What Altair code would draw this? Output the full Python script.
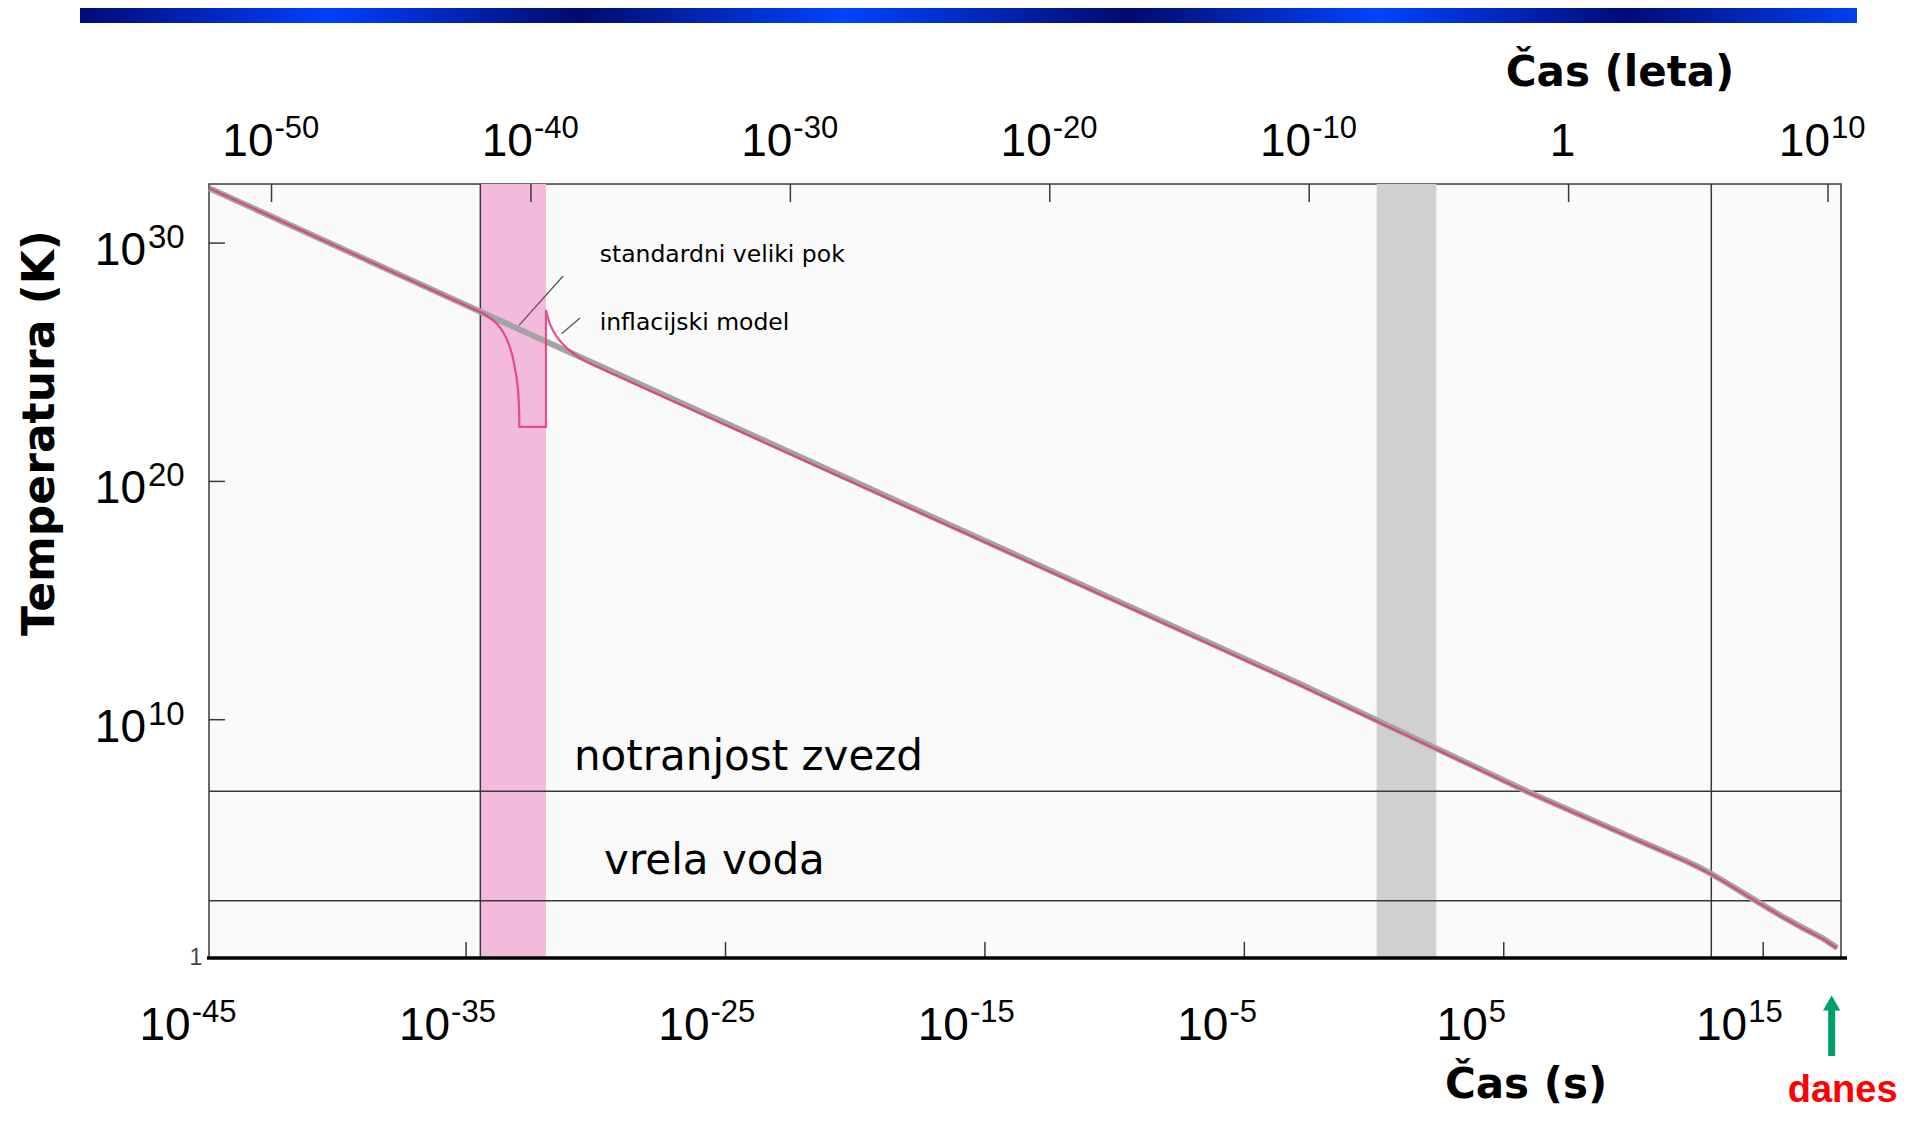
import altair as alt
import pandas as pd

# ---------------- data (all values are log10) ----------------
# bottom axis: time in seconds
sec_label_exps = [-45, -35, -25, -15, -5, 5, 15]
sec_tick_exps = [-35, -25, -15, -5, 5, 15]
# top axis: time in years
yr_label_exps = [-50, -40, -30, -20, -10, 10]
yr_one_exps = [0]
yr_tick_exps = [-50, -40, -30, -20, -10, 0, 10]
LOG_SEC_PER_YEAR = 7.5  # 1 year ~ 3.16e7 s
# left axis: temperature in K
temp_label_exps = [10, 20, 30]
temp_one_exps = [0]

# standard big bang (grey)
std_logt = [-44.9, -34.4, -15.5, -2.85, 5.94, 10.0, 12.0, 12.5, 13.0, 13.5, 14.0, 14.9, 15.8,
            16.5, 17.3, 17.85]
std_logT = [32.3, 27.1, 17.75, 11.5, 6.97, 5.03, 4.08, 3.82, 3.53, 3.21, 2.88, 2.28, 1.7,
            1.28, 0.82, 0.43]

# inflationary model (pink)
inf_logt = [-44.9, -34.4, -34.2, -33.98, -33.78, -33.6, -33.45, -33.32, -33.22, -33.14, -33.06,
            -33.0, -32.97, -32.95, -32.95, -31.92, -31.92, -31.85, -31.78, -31.65, -31.5, -31.3,
            -31.07, -30.78, -30.46, -30.06, -29.66, -15.5, -2.85, 5.94, 10.0, 12.0, 12.5, 13.0,
            13.5, 14.0, 14.9, 15.8, 16.5, 17.3, 17.85]
inf_logT = [32.3, 27.08, 26.95, 26.78, 26.58, 26.32, 26.02, 25.66, 25.3, 24.89, 24.4,
            23.87, 23.35, 22.85, 22.29, 22.29, 27.19, 26.9, 26.63, 26.33, 26.06, 25.8,
            25.55, 25.3, 25.09, 24.86, 24.66, 17.7, 11.45, 6.94, 5.0, 4.06, 3.8, 3.51,
            3.19, 2.86, 2.26, 1.68, 1.26, 0.8, 0.41]

# epochs
inflation_band = [-34.45, -31.92]
nucleo_band = [0.1, 2.4]
vline_logt = [-34.45, 13.0]
ref_temps = [7.0, 2.4]
ref_names = ["notranjost zvezd", "vrela voda"]
ref_label_logt = [-30.84, -29.68]
ref_label_logT = [8.45, 4.05]
today_logt = [17.64]

# curve labels
ann_text = ["standardni veliki pok", "inflacijski model"]
ann_logt = [-29.85, -29.85]
ann_logT = [29.5, 26.65]
lead_t1 = [-32.96, -31.32]
lead_T1 = [26.55, 26.2]
lead_t2 = [-31.26, -30.61]
lead_T2 = [28.62, 26.86]

# ---------------- chart ----------------
W, H = 1632, 774
NUM_FONT = "Liberation Sans"
BOLD_FONT = "DejaVu Sans"
TXT_FONT = "DejaVu Sans"

xs = alt.Scale(domain=[-44.91, 18.0], nice=False, zero=False)
ys = alt.Scale(domain=[0, 32.48], nice=False, zero=False)


def X(f):
    return alt.X(f, type="quantitative", scale=xs, axis=None)


def Y(f):
    return alt.Y(f, type="quantitative", scale=ys, axis=None)


one = pd.DataFrame({"k": [0]})

std_df = pd.DataFrame({"t": std_logt, "T": std_logT, "i": range(len(std_logt))})
inf_df = pd.DataFrame({"t": inf_logt, "T": inf_logT, "i": range(len(inf_logt))})

layers = []

# blue gradient bar at the top of the slide
grad = {
    "gradient": "linear", "x1": 0, "x2": 1, "y1": 0, "y2": 0,
    "stops": [
        {"offset": 0.0, "color": "#000a78"},
        {"offset": 0.14, "color": "#0040ff"},
        {"offset": 0.28, "color": "#000a6e"},
        {"offset": 0.43, "color": "#0044ff"},
        {"offset": 0.59, "color": "#000a6e"},
        {"offset": 0.73, "color": "#0044ff"},
        {"offset": 0.87, "color": "#000a78"},
        {"offset": 1.0, "color": "#0040f0"},
    ],
}
layers.append(alt.Chart(one).mark_rect(color=grad).encode(
    x=alt.value(-129), x2=alt.value(1648), y=alt.value(-180), y2=alt.value(-161)))

# bands
layers.append(alt.Chart(pd.DataFrame({"a": [inflation_band[0]], "b": [inflation_band[1]]}))
              .mark_rect(color="#f4badb").encode(x=X("a"), x2="b", y=alt.value(0), y2=alt.value(H)))
layers.append(alt.Chart(pd.DataFrame({"a": [nucleo_band[0]], "b": [nucleo_band[1]]}))
              .mark_rect(color="#d0d0d0").encode(x=X("a"), x2="b", y=alt.value(0), y2=alt.value(H)))

# reference lines
layers.append(alt.Chart(pd.DataFrame({"t": vline_logt})).mark_rule(color="#3a3a3a", strokeWidth=1.5)
              .encode(x=X("t"), y=alt.value(0), y2=alt.value(H)))
layers.append(alt.Chart(pd.DataFrame({"T": ref_temps})).mark_rule(color="#3a3a3a", strokeWidth=1.5)
              .encode(y=Y("T"), x=alt.value(0), x2=alt.value(W)))

# inward ticks
layers.append(alt.Chart(pd.DataFrame({"t": sec_tick_exps})).mark_rule(color="#3a3a3a", strokeWidth=1.5)
              .encode(x=X("t"), y=alt.value(H - 16), y2=alt.value(H)))
yr_ticks = pd.DataFrame({"t": [e + LOG_SEC_PER_YEAR for e in yr_tick_exps]})
layers.append(alt.Chart(yr_ticks).mark_rule(color="#3a3a3a", strokeWidth=1.5)
              .encode(x=X("t"), y=alt.value(0), y2=alt.value(18)))
layers.append(alt.Chart(pd.DataFrame({"T": temp_label_exps})).mark_rule(color="#3a3a3a", strokeWidth=1.5)
              .encode(y=Y("T"), x=alt.value(0), x2=alt.value(16)))

# thick bottom axis line
layers.append(alt.Chart(one).mark_rule(color="#000000", strokeWidth=3.5)
              .encode(x=alt.value(-2), x2=alt.value(W + 6), y=alt.value(H)))

# curves
layers.append(alt.Chart(std_df).mark_line(color="#a3a3a3", strokeWidth=6)
              .encode(x=X("t"), y=Y("T"), order="i"))
layers.append(alt.Chart(inf_df).mark_line(color="#e0397c", strokeWidth=2.2, opacity=0.85)
              .encode(x=X("t"), y=Y("T"), order="i"))

# leaders
lead_df = pd.DataFrame({"t1": lead_t1, "T1": lead_T1, "t2": lead_t2, "T2": lead_T2})
layers.append(alt.Chart(lead_df).mark_rule(color="#555555", strokeWidth=1.3)
              .encode(x=X("t1"), y=Y("T1"), x2="t2", y2="T2"))

# curve labels
layers.append(alt.Chart(pd.DataFrame({"t": ann_logt, "T": ann_logT, "s": ann_text}))
              .mark_text(align="left", baseline="middle", font=TXT_FONT, fontSize=23.5, color="#000")
              .encode(x=X("t"), y=Y("T"), text="s"))
# reference labels
layers.append(alt.Chart(pd.DataFrame({"t": ref_label_logt, "T": ref_label_logT, "s": ref_names}))
              .mark_text(align="left", baseline="middle", font=TXT_FONT, fontSize=42, color="#000")
              .encode(x=X("t"), y=Y("T"), text="s"))

# bottom axis labels (10^n)
sec_df = pd.DataFrame({"t": sec_label_exps, "e": [str(v) for v in sec_label_exps]})
layers.append(alt.Chart(sec_df).mark_text(align="right", baseline="alphabetic", font=NUM_FONT,
                                          fontSize=46, dx=-16, color="#000")
              .encode(x=X("t"), y=alt.value(856), text=alt.value("10")))
layers.append(alt.Chart(sec_df).mark_text(align="left", baseline="alphabetic", font=NUM_FONT,
                                          fontSize=31, dx=-15, color="#000")
              .encode(x=X("t"), y=alt.value(838), text="e"))

# top axis labels (years)
yr_df = pd.DataFrame({"t": [e + LOG_SEC_PER_YEAR for e in yr_label_exps],
                      "e": [str(v) for v in yr_label_exps]})
layers.append(alt.Chart(yr_df).mark_text(align="right", baseline="alphabetic", font=NUM_FONT,
                                         fontSize=46, dx=2, color="#000")
              .encode(x=X("t"), y=alt.value(-28), text=alt.value("10")))
layers.append(alt.Chart(yr_df).mark_text(align="left", baseline="alphabetic", font=NUM_FONT,
                                         fontSize=31, dx=3, color="#000")
              .encode(x=X("t"), y=alt.value(-46), text="e"))
layers.append(alt.Chart(pd.DataFrame({"t": [e + LOG_SEC_PER_YEAR for e in yr_one_exps]}))
              .mark_text(align="center", baseline="alphabetic", font=NUM_FONT, fontSize=46, dx=-6, color="#000")
              .encode(x=X("t"), y=alt.value(-28), text=alt.value("1")))

# left axis labels
tmp_df = pd.DataFrame({"T": temp_label_exps, "e": [str(v) for v in temp_label_exps]})
layers.append(alt.Chart(tmp_df).mark_text(align="right", baseline="alphabetic", font=NUM_FONT,
                                          fontSize=46, dy=22, color="#000")
              .encode(x=alt.value(-63), y=Y("T"), text=alt.value("10")))
layers.append(alt.Chart(tmp_df).mark_text(align="left", baseline="alphabetic", font=NUM_FONT,
                                          fontSize=33, dy=5, color="#000")
              .encode(x=alt.value(-61), y=Y("T"), text="e"))
layers.append(alt.Chart(pd.DataFrame({"T": temp_one_exps})).mark_text(
    align="center", baseline="middle", font=NUM_FONT, fontSize=23, color="#444")
    .encode(x=alt.value(-13), y=Y("T"), text=alt.value("1")))

# axis titles
layers.append(alt.Chart(one).mark_text(align="center", baseline="alphabetic", font=BOLD_FONT,
                                       fontWeight="bold", fontSize=42, color="#000")
              .encode(x=alt.value(1411), y=alt.value(-98), text=alt.value("Čas (leta)")))
layers.append(alt.Chart(one).mark_text(align="center", baseline="alphabetic", font=BOLD_FONT,
                                       fontWeight="bold", fontSize=42, color="#000")
              .encode(x=alt.value(1317), y=alt.value(914), text=alt.value("Čas (s)")))
layers.append(alt.Chart(one).mark_text(align="center", baseline="middle", font=BOLD_FONT,
                                       fontWeight="bold", fontSize=44, angle=270, color="#000")
              .encode(x=alt.value(-168), y=alt.value(249), text=alt.value("Temperatura (K)")))

# today marker
today_df = pd.DataFrame({"t": today_logt})
layers.append(alt.Chart(today_df).mark_rule(color="#00a06e", strokeWidth=7)
              .encode(x=X("t"), y=alt.value(824), y2=alt.value(872)))
layers.append(alt.Chart(today_df).mark_point(shape="triangle-up", filled=True, size=300,
                                             color="#00a06e", opacity=1)
              .encode(x=X("t"), y=alt.value(819)))
layers.append(alt.Chart(today_df).mark_text(align="center", baseline="alphabetic", font="Liberation Sans",
                                            fontWeight="bold", fontSize=38, dx=11, color="#ff0000")
              .encode(x=X("t"), y=alt.value(918), text=alt.value("danes")))

chart = alt.layer(*layers).properties(
    width=W, height=H,
    autosize=alt.AutoSizeParams(type="none"),
    padding={"left": 201, "top": 176, "right": 58, "bottom": 157},
).configure_view(stroke="#3a3a3a", strokeWidth=1.5, fill="#fafafa")

chart.save("out.html", embed_options={"renderer": "svg", "actions": False})
